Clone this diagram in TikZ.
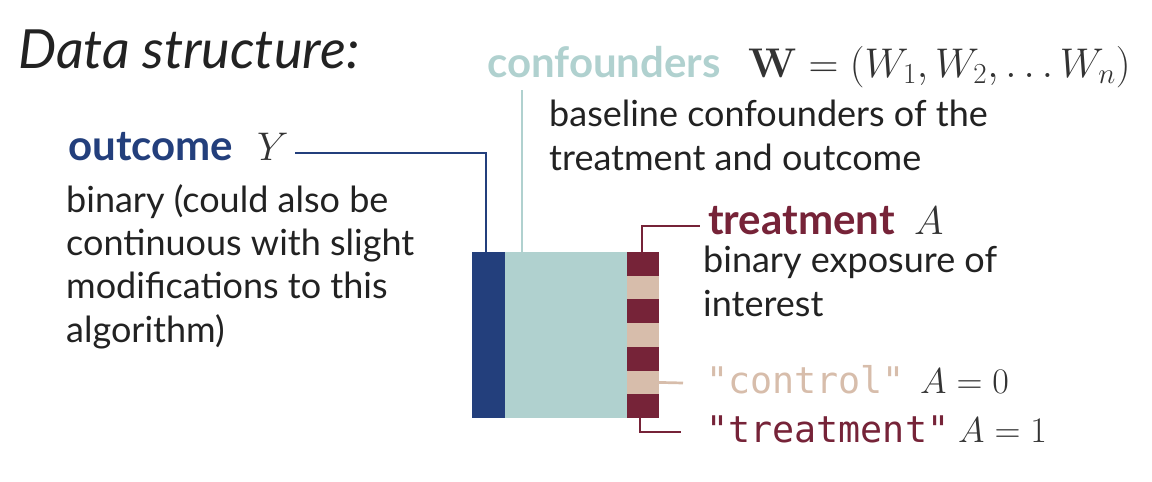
\RequirePackage{fix-cm}
\documentclass[tikz,border=0pt]{standalone}
\usepackage[no-math]{fontspec}
\setmainfont{Lato}
\setmonofont{DejaVu Sans Mono}
\usepackage{amsmath}
\usepackage{xcolor}
\usetikzlibrary{positioning}
\definecolor{navy}{HTML}{233F7C}
\definecolor{seafoam}{HTML}{B0D1CF}
\definecolor{wine}{HTML}{762338}
\definecolor{sand}{HTML}{D7BDAB}
\definecolor{ink}{HTML}{222222}
\definecolor{mathgray}{HTML}{333333}
\tikzset{
    colbox/.style={inner sep=0pt, outer sep=0pt, minimum height=166pt},
    stripe/.style={inner sep=0pt, outer sep=0pt, minimum width=32pt, minimum height=23.72pt},
    ttl/.style={anchor=base west, inner sep=0pt, text=ink, font=\fontsize{54}{60}\selectfont\itshape},
    head/.style={anchor=base west, inner sep=0pt, font=\fontsize{42}{48}\selectfont\bfseries},
    desc/.style={anchor=base west, inner sep=0pt, align=left, text=ink, font=\fontsize{36}{43.3}\selectfont},
    mlbl/.style={anchor=base west, inner sep=0pt, text=mathgray, font=\fontsize{36}{43}\selectfont},
    hmath/.style={mlbl, font=\fontsize{40}{46}\selectfont},
    code/.style={anchor=base west, inner sep=0pt, font=\fontsize{36.7}{43}\selectfont\ttfamily},
    lnk/.style={line width=2.7pt}
}

\begin{document}
\begin{tikzpicture}[x=1pt, y=-1pt]
    \useasboundingbox (0,0) rectangle (1152,482);

    \node[ttl] (title) at (18,68) {Data structure:};

    % data table
    \node[colbox, minimum width=33pt, fill=navy] (ycol) at (488.5,335) {};
    \node[colbox, minimum width=122pt, fill=seafoam] (wcol) at (566,335) {};
    \foreach \i/\c in {1/wine,2/sand,3/wine,4/sand,5/wine,6/sand,7/wine}
        \node[stripe, fill=\c] (a\i) at (643,{252+23.714*(\i-0.5)}) {};

    % outcome (multi-line nodes sit on their last baseline)
    \node[head, text=navy] (outc) at (68,160) {outcome};
    \node[hmath] (yvar) at (257,160) {$Y$};
    \node[desc] (outdesc) at (66,342) {binary (could also be\\continuous with slight\\modifications to this\\algorithm)};

    % confounders
    \node[head, text=seafoam] (conf) at (487,77) {confounders};
    \node[hmath, font=\fontsize{41.5}{48}\selectfont] (wvar) at (748,77) {$\mathbf{W}=(W_1,W_2,\dots W_n)$};
    \node[desc] (confdesc) at (549,170) {baseline confounders of the\\treatment and outcome};

    % treatment
    \node[head, text=wine] (trt) at (708,234) {treatment};
    \node[hmath] (avar) at (914,234) {$A$};
    \node[desc] (trtdesc) at (703,316) {binary exposure of\\interest};
    \node[code, text=sand] (ctrl) at (706,393) {"control"};
    \node[mlbl] (a0) at (920,393) {$A=0$};
    \node[code, text=wine] (trtd) at (706,442) {"treatment"};
    \node[mlbl] (a1v) at (958,442) {$A=1$};

    % connectors
    \coordinate (ystart) at (295,153);
    \coordinate (wtop) at (522,90);
    \coordinate (atop) at (700,226);
    \coordinate (cend) at (683,383);
    \coordinate (tend) at (681,432);
    \draw[lnk, navy] (ystart) -| ([xshift=-2.5pt]ycol.north);
    \draw[lnk, seafoam] (wtop) -- (wtop |- wcol.north);
    \draw[lnk, wine] ([xshift=-1pt]a1.north) |- (atop);
    \draw[lnk, sand] (a6.east) -- (cend);
    \draw[lnk, wine] ([xshift=-3pt]a7.south) |- (tend);
\end{tikzpicture}
\end{document}
